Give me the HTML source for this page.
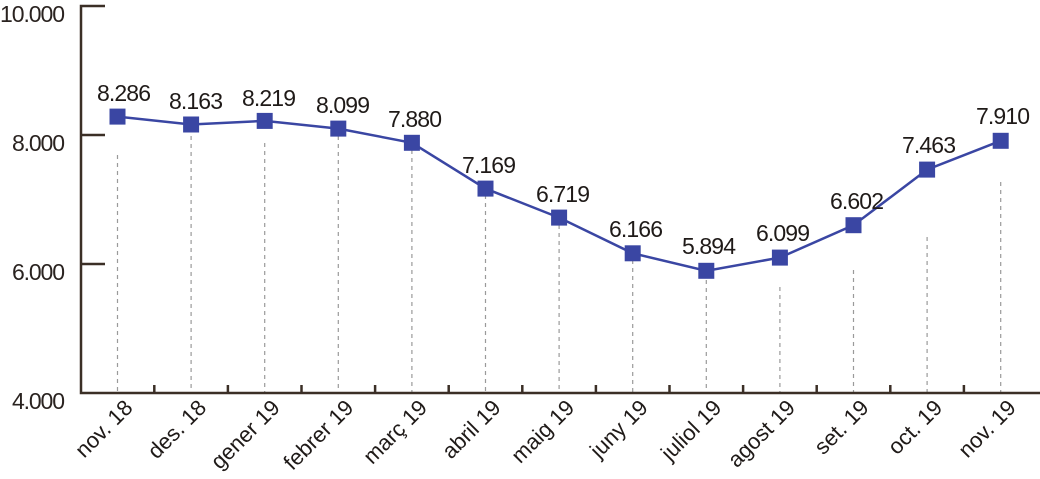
<!DOCTYPE html>
<html><head><meta charset="utf-8"><style>
html,body{margin:0;padding:0;background:#fff;}
svg{display:block;font-family:"Liberation Sans",sans-serif;}
</style></head><body>
<svg width="1040" height="479" viewBox="0 0 1040 479" xmlns="http://www.w3.org/2000/svg">
<g stroke="#9a9a9a" stroke-width="1.2" stroke-dasharray="4,4">
<line x1="117.5" y1="155" x2="117.5" y2="393"/>
<line x1="191.1" y1="128" x2="191.1" y2="393"/>
<line x1="264.7" y1="143" x2="264.7" y2="393"/>
<line x1="338.3" y1="136" x2="338.3" y2="393"/>
<line x1="411.9" y1="150" x2="411.9" y2="393"/>
<line x1="485.5" y1="195" x2="485.5" y2="393"/>
<line x1="559.1" y1="225" x2="559.1" y2="393"/>
<line x1="632.7" y1="260" x2="632.7" y2="393"/>
<line x1="706.3" y1="280" x2="706.3" y2="393"/>
<line x1="779.9" y1="287" x2="779.9" y2="393"/>
<line x1="853.5" y1="270" x2="853.5" y2="393"/>
<line x1="927.1" y1="237" x2="927.1" y2="393"/>
<line x1="1000.7" y1="182" x2="1000.7" y2="393"/>
</g>
<g stroke="#3b2f26" stroke-width="2.5" fill="none">
<polyline points="105,6 81,6 81,393 1040,393"/>
<line x1="81" y1="135" x2="105" y2="135"/>
<line x1="81" y1="264" x2="105" y2="264"/>
<line x1="154.3" y1="393" x2="154.3" y2="385"/><line x1="227.9" y1="393" x2="227.9" y2="385"/>
<line x1="301.5" y1="393" x2="301.5" y2="385"/><line x1="375.1" y1="393" x2="375.1" y2="385"/>
<line x1="448.7" y1="393" x2="448.7" y2="385"/><line x1="522.3" y1="393" x2="522.3" y2="385"/>
<line x1="595.9" y1="393" x2="595.9" y2="385"/><line x1="669.5" y1="393" x2="669.5" y2="385"/>
<line x1="743.1" y1="393" x2="743.1" y2="385"/><line x1="816.7" y1="393" x2="816.7" y2="385"/>
<line x1="890.3" y1="393" x2="890.3" y2="385"/><line x1="963.9" y1="393" x2="963.9" y2="385"/>
</g>
<g font-size="23" fill="#2a2320" text-anchor="end">
<text x="65" y="22" textLength="65">10.000</text><text x="65" y="151" textLength="53">8.000</text>
<text x="65" y="280" textLength="53">6.000</text><text x="65" y="409" textLength="53">4.000</text>
</g>
<polyline fill="none" stroke="#3a46a3" stroke-width="2.5" points="117.5,116.6 191.1,124.5 264.7,120.9 338.3,128.6 411.9,142.8 485.5,188.6 559.1,217.6 632.7,253.3 706.3,270.8 779.9,257.6 853.5,225.2 927.1,169.6 1000.7,140.8"/>
<g fill="#3a46a3">
<rect x="109.5" y="108.6" width="16" height="16"/><rect x="183.1" y="116.5" width="16" height="16"/>
<rect x="256.7" y="112.9" width="16" height="16"/><rect x="330.3" y="120.6" width="16" height="16"/>
<rect x="403.9" y="134.8" width="16" height="16"/><rect x="477.5" y="180.6" width="16" height="16"/>
<rect x="551.1" y="209.6" width="16" height="16"/><rect x="624.7" y="245.3" width="16" height="16"/>
<rect x="698.3" y="262.8" width="16" height="16"/><rect x="771.9" y="249.6" width="16" height="16"/>
<rect x="845.5" y="217.2" width="16" height="16"/><rect x="919.1" y="161.6" width="16" height="16"/>
<rect x="992.7" y="132.8" width="16" height="16"/>
</g>
<g font-size="23" fill="#1f1a18" text-anchor="middle">
<text x="124" y="101" textLength="54">8.286</text><text x="196" y="109" textLength="54">8.163</text><text x="269" y="106" textLength="54">8.219</text>
<text x="343" y="113" textLength="54">8.099</text><text x="415" y="127" textLength="54">7.880</text><text x="489" y="173" textLength="54">7.169</text>
<text x="563" y="202" textLength="54">6.719</text><text x="636" y="237" textLength="54">6.166</text><text x="709" y="254" textLength="54">5.894</text>
<text x="783" y="241" textLength="54">6.099</text><text x="857" y="209" textLength="54">6.602</text><text x="929" y="153" textLength="54">7.463</text>
<text x="1003" y="124" textLength="54">7.910</text>
</g>
<g font-size="22" fill="#1f1a18" text-anchor="end">
<text transform="translate(134,409) rotate(-45)">nov. 18</text>
<text transform="translate(207.6,409) rotate(-45)">des. 18</text>
<text transform="translate(281.2,409) rotate(-45)">gener 19</text>
<text transform="translate(354.8,409) rotate(-45)">febrer 19</text>
<text transform="translate(428.4,409) rotate(-45)">març 19</text>
<text transform="translate(502,409) rotate(-45)">abril 19</text>
<text transform="translate(575.6,409) rotate(-45)">maig 19</text>
<text transform="translate(649.2,409) rotate(-45)">juny 19</text>
<text transform="translate(722.8,409) rotate(-45)">juliol 19</text>
<text transform="translate(796.4,409) rotate(-45)">agost 19</text>
<text transform="translate(870,409) rotate(-45)">set. 19</text>
<text transform="translate(943.6,409) rotate(-45)">oct. 19</text>
<text transform="translate(1017.2,409) rotate(-45)">nov. 19</text>
</g>
</svg>
</body></html>
